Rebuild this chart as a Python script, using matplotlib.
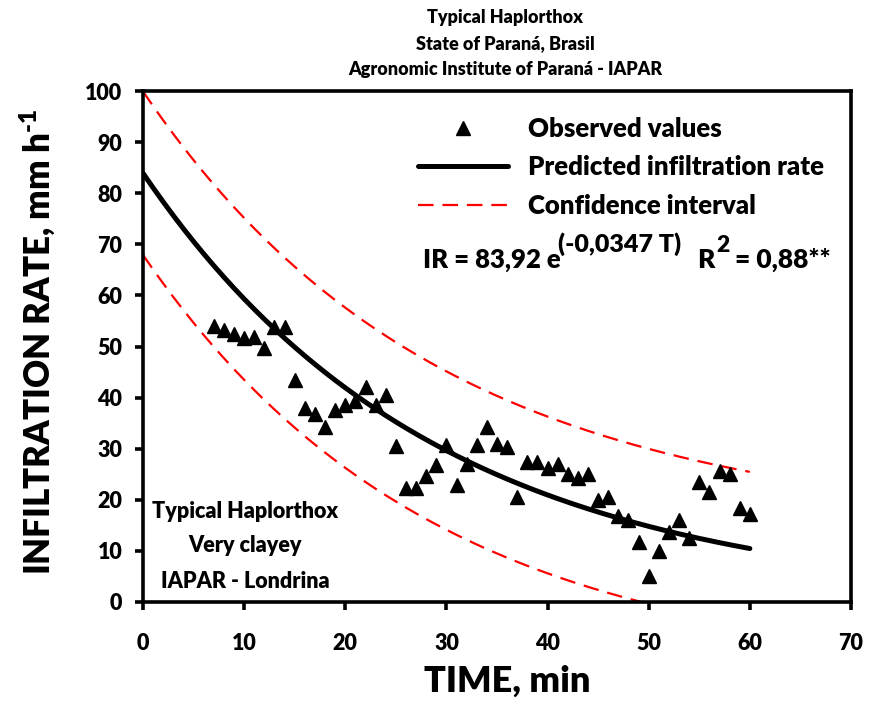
import numpy as np
import matplotlib
matplotlib.use("Agg")
import matplotlib.pyplot as plt

plt.rcParams['font.family'] = ['Lato', 'DejaVu Sans']
plt.rcParams['font.weight'] = 'heavy'
plt.rcParams['axes.labelweight'] = 'heavy'
plt.rcParams['mathtext.fontset'] = 'custom'
plt.rcParams['mathtext.rm'] = 'Lato:heavy'
plt.rcParams['mathtext.bf'] = 'Lato:heavy'
plt.rcParams['mathtext.it'] = 'Lato:heavy'

# observed infiltration rate (mm/h) per minute
time_obs = list(range(7, 61))
rate_obs = [54.0, 53.2, 52.5, 51.7, 51.9, 49.8, 53.9, 53.9, 43.4, 37.9,
            36.7, 34.2, 37.5, 38.6, 39.3, 42.0, 38.6, 40.5, 30.5, 22.3,
            22.3, 24.6, 26.9, 30.7, 22.8, 27.0, 30.7, 34.2, 30.9, 30.3,
            20.5, 27.4, 27.4, 26.2, 27.0, 25.0, 24.3, 25.0, 19.9, 20.5,
            16.9, 16.1, 11.7, 5.0, 10.0, 13.7, 16.0, 12.5, 23.4, 21.6,
            25.6, 25.1, 18.3, 17.3]

# fitted model IR = a * exp(b * T) and its confidence band half-width
a_fit = 83.92
b_fit = -0.0347
ci_half_start = 16.0
ci_half_end = 15.0
t_fit = np.linspace(0, 60, 241)
ir_fit = a_fit * np.exp(b_fit * t_fit)
ci_half = np.linspace(ci_half_start, ci_half_end, len(t_fit))
ci_up = ir_fit + ci_half
ci_low = ir_fit - ci_half
low_mask = ci_low >= 0

W, H = 869, 702
fig = plt.figure(figsize=(W / 100, H / 100), dpi=100)
ax = fig.add_axes([143 / W, 1 - 602 / H, 708 / W, 511 / H])

ax.plot(t_fit, ci_up, color='red', lw=1.6, dashes=(7, 4),
        label='Confidence interval', zorder=2)
ax.plot(t_fit[low_mask], ci_low[low_mask], color='red', lw=1.6,
        dashes=(7, 4), zorder=2)
ax.plot(t_fit, ir_fit, color='black', lw=3.6, solid_capstyle='round',
        label='Predicted infiltration rate', zorder=3)
ax.plot(time_obs, rate_obs, linestyle='none', marker='^', ms=10,
        color='black', label='Observed values', zorder=4)

ax.set_xlim(0, 70)
ax.set_ylim(0, 100)
ax.set_xticks(range(0, 71, 10))
ax.set_yticks(range(0, 101, 10))
for s in ax.spines.values():
    s.set_linewidth(2.6)
ax.tick_params(direction='out', length=6, width=2.6, labelsize=15.5)
ax.tick_params(axis='x', pad=16)
ax.tick_params(axis='y', pad=9)

ax.set_xlabel('TIME, min', fontsize=26, fontweight='heavy')
ax.xaxis.set_label_coords(0.514, -0.122)
ax.set_ylabel('INFILTRATION RATE, mm h$^{\\mathbf{\u2010}\\mathbf{1}}$',
              fontsize=25, fontweight='heavy')
ax.yaxis.set_label_coords(-0.122, 0.51)

h, l = ax.get_legend_handles_labels()
leg = ax.legend(h[::-1], l[::-1], loc='upper left', frameon=False,
                bbox_to_anchor=((408 - 143) / 708, (602 - 107) / 511),
                fontsize=18.5, handlelength=3.5, handletextpad=0.78,
                labelspacing=0.55, borderaxespad=0)

def ftext(x, y, s, **kw):
    fig.text(x / W, 1 - y / H, s, **kw)

eq = dict(va='baseline', ha='left')
ftext(423, 268, 'IR = 83,92 e', fontsize=18.5, **eq)
ftext(558, 252, '(-0,0347 T)', fontsize=18, **eq)
ftext(697, 268, 'R', fontsize=19, **eq)
ftext(716, 252, '2', fontsize=16.5, **eq)
ftext(735, 268, '= 0,88**', fontsize=19, **eq)

title_lines = ['Typical Haplorthox', 'State of Paraná, Brasil',
               'Agronomic Institute of Paraná - IAPAR']
for i, line in enumerate(title_lines):
    ftext(505, 17 + 26.5 * i, line, fontsize=13, ha='center', va='center')

soil_lines = ['Typical Haplorthox', 'Very clayey', 'IAPAR - Londrina']
for i, line in enumerate(soil_lines):
    ftext(245, 511 + 35 * i, line, fontsize=15.5, ha='center', va='center')

fig.savefig('out.png', dpi=100)
